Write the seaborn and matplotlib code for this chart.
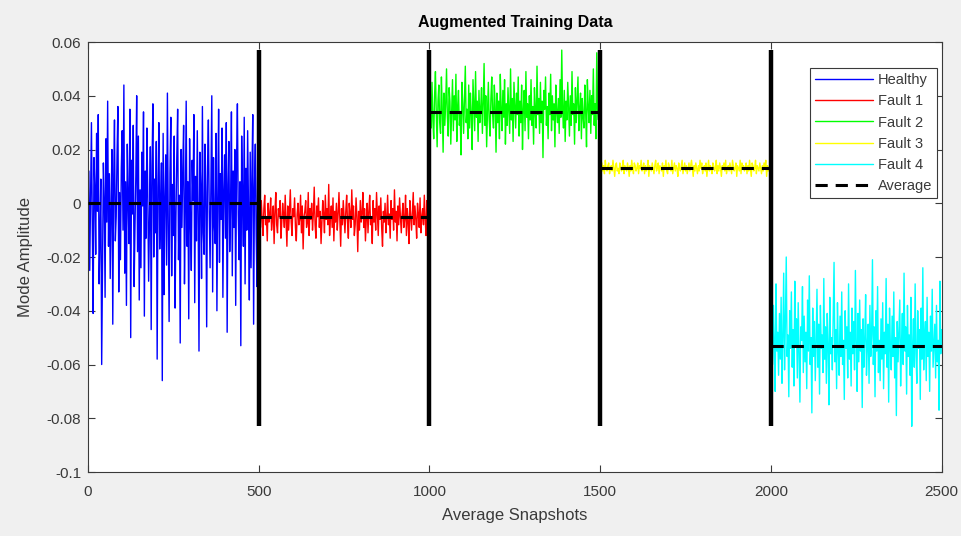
import numpy as np
import pandas as pd
import matplotlib
matplotlib.use("Agg")
import matplotlib.pyplot as plt
from matplotlib.lines import Line2D
import seaborn as sns

# ---- data (values in thousandths of mode amplitude, one sample every 2.5 snapshots) ----
SCALE = 1e-3
STEP = 2.5
SEG_LEN = 500

labels = ["Healthy", "Fault 1", "Fault 2", "Fault 3", "Fault 4"]
colors = ["#0000ff", "#ff0000", "#00ff00", "#ffff00", "#00ffff"]

healthy = [
    12, -25, 3, 30, -8, -41, 17, 6, -19, 26, -3, 33, -30, -12, 9, -60, -22, 15, 2, -35,
    24, -7, 38, -16, 11, -28, -2, 20, -45, 7, 31, -14, -5, 18, 36, -33, 4, -21, 13, 27,
    -10, 44, -26, 8, -38, 22, 1, -15, 35, -50, 16, -4, 29, -31, -9, 10, 40, -18, 25, -36,
    5, -24, 19, -1, 34, -42, 12, -13, 28, 3, -29, -6, 21, -47, 14, 37, -20, 9, -11, 23,
    -58, 6, 30, -17, -3, 15, -66, 26, -34, 2, 18, -23, 41, -8, -44, 11, 32, -27, 7, -12,
    25, -39, -5, 17, 35, -21, 3, -52, 20, -9, 13, 29, -30, -2, 38, -16, 8, -43, 24, -7,
    -25, 16, 1, 33, -37, 10, -14, 27, -4, -55, 19, 6, -28, 36, -11, -19, 22, 4, -46, 14,
    31, -3, -24, 9, 40, -33, 17, -8, -15, 26, -40, 2, 35, -22, 11, -6, 28, -35, 5, 18,
    -13, 30, -48, 7, 23, -18, -1, 34, -27, 12, -9, 20, -38, 15, 37, -4, -21, 8, -53, 25,
    3, -16, 32, -30, 13, -10, 27, -2, -36, 19, -24, 10, 33, -45, 6, 22, -12, -31, 29, 1,
]
fault1 = [
    -3, -9, 1, -6, -12, -2, 3, -8, -5, -14, 0, -7, -4, 2, -10, -6, -1, -15, -3, 4,
    -8, -11, -2, -5, 1, -13, -7, 0, -4, -9, 3, -6, -16, -1, -10, -3, 5, -7, -12, -2,
    -5, 2, -9, -14, -4, 0, -8, -6, 3, -11, -1, -17, -5, -3, 1, -9, -7, 4, -12, -2,
    -6, 0, -10, -4, 6, -8, -13, -1, -5, 2, -9, -3, -15, -7, 1, -4, -11, 3, -6, -2,
    -8, 7, -12, -5, -1, -9, 2, -14, -3, -7, 0, -10, -4, 4, -6, -16, -2, -8, 1, -5,
    -11, -3, 3, -7, -13, 0, -4, -9, 5, -6, -1, -12, -8, 2, -5, -18, -3, -10, 1, -7,
    -4, 4, -9, -2, -14, -6, 0, -11, -3, 3, -8, -5, -15, 1, -7, -2, -10, 4, -4, -12,
    -1, -6, 2, -9, -16, -3, -7, 0, -11, -5, 3, -8, -4, -13, 1, -6, -2, -10, 5, -7,
    -3, -14, -1, -8, 2, -5, -11, -4, 0, -9, -6, 3, -12, -2, -7, -15, 1, -5, -10, -3,
    4, -8, -1, -6, -13, 0, -4, -9, 2, -11, -5, -2, -8, 3, -6, -12, 1, -4, 5, -3,
]
fault2 = [
    36, 28, 45, 31, 24, 40, 49, 33, 21, 38, 44, 30, 26, 47, 35, 19, 41, 29, 37, 50,
    32, 25, 43, 38, 22, 34, 46, 27, 40, 31, 48, 23, 36, 42, 29, 33, 18, 45, 37, 26,
    39, 51, 30, 35, 24, 44, 28, 41, 33, 20, 46, 36, 27, 49, 32, 38, 23, 42, 30, 35,
    43, 26, 37, 52, 29, 40, 21, 34, 45, 31, 25, 39, 47, 33, 28, 44, 36, 19, 41, 30,
    38, 24, 48, 35, 27, 42, 32, 46, 22, 37, 29, 43, 34, 26, 50, 31, 39, 23, 45, 36,
    28, 41, 33, 47, 25, 38, 30, 44, 20, 35, 42, 27, 49, 32, 37, 24, 40, 31, 46, 29,
    36, 22, 43, 34, 28, 51, 33, 39, 26, 45, 30, 38, 17, 42, 35, 47, 29, 36, 24, 41,
    33, 48, 27, 40, 31, 37, 21, 44, 34, 30, 39, 26, 46, 32, 57, 35, 28, 42, 23, 38,
    31, 45, 36, 25, 40, 29, 49, 33, 37, 22, 43, 30, 38, 47, 27, 35, 41, 24, 39, 32,
    28, 44, 34, 21, 46, 36, 30, 42, 26, 40, 33, 50, 29, 37, 24, 56, 35, 31, 45, 38,
]
fault3 = [
    13, 15, 12, 14, 11, 16, 13, 12, 14, 15, 11, 13, 14, 12, 16, 13, 10, 14, 15, 12,
    13, 11, 15, 14, 12, 13, 16, 11, 14, 13, 12, 15, 13, 10, 14, 12, 16, 13, 11, 15,
    14, 12, 13, 15, 11, 14, 13, 16, 12, 13, 15, 11, 14, 12, 13, 16, 10, 14, 13, 12,
    15, 13, 11, 14, 16, 12, 13, 15, 11, 14, 13, 12, 15, 10, 14, 13, 16, 12, 11, 15,
    14, 13, 12, 16, 11, 13, 15, 12, 14, 13, 10, 15, 13, 12, 14, 16, 11, 13, 15, 12,
    14, 11, 13, 15, 12, 14, 16, 13, 10, 14, 12, 15, 13, 11, 14, 12, 16, 13, 15, 11,
    13, 14, 12, 15, 10, 13, 16, 12, 14, 13, 11, 15, 14, 12, 13, 16, 11, 14, 12, 15,
    13, 10, 14, 13, 15, 12, 16, 11, 13, 14, 12, 15, 13, 11, 16, 14, 12, 13, 15, 10,
    14, 13, 12, 16, 11, 15, 13, 14, 12, 13, 15, 11, 14, 12, 16, 13, 10, 15, 14, 12,
    13, 16, 11, 14, 13, 12, 15, 13, 11, 14, 12, 15, 13, 16, 10, 14, 12, 13, 15, 13,
]
fault4 = [
    -45, -60, -38, -52, -70, -30, -55, -48, -64, -41, -58, -35, -67, -50, -26, -62, -44, -20, -57, -49,
    -72, -40, -54, -33, -61, -47, -68, -29, -53, -43, -65, -37, -56, -74, -46, -51, -31, -63, -42, -59,
    -48, -69, -36, -55, -27, -60, -50, -78, -39, -57, -44, -66, -52, -32, -61, -45, -71, -38, -54, -49,
    -63, -28, -58, -46, -67, -41, -53, -75, -35, -56, -50, -62, -43, -22, -59, -47, -69, -37, -55, -64,
    -42, -57, -33, -60, -51, -73, -40, -54, -46, -65, -30, -58, -48, -68, -39, -56, -44, -62, -25, -52,
    -70, -41, -59, -36, -55, -47, -76, -43, -61, -50, -34, -64, -53, -45, -67, -38, -57, -49, -21, -60,
    -46, -72, -40, -55, -31, -63, -51, -66, -43, -58, -37, -69, -48, -56, -28, -61, -45, -74, -39, -53,
    -62, -42, -57, -33, -65, -50, -79, -44, -59, -47, -36, -68, -52, -41, -60, -26, -55, -46, -71, -38,
    -57, -49, -64, -35, -83, -53, -43, -61, -30, -56, -67, -40, -54, -47, -73, -39, -58, -24, -62, -50,
    -44, -66, -35, -57, -48, -70, -42, -55, -32, -61, -53, -45, -65, -38, -59, -51, -77, -29, -56, -47,
]
averages = [0.0, -5.0, 34.0, 13.0, -53.0]
boundaries = [500, 1000, 1500, 2000]

x_ticks = [0, 500, 1000, 1500, 2000, 2500]
y_ticks = [-0.1, -0.08, -0.06, -0.04, -0.02, 0, 0.02, 0.04, 0.06]
y_ticklabels = ["-0.1", "-0.08", "-0.06", "-0.04", "-0.02", "0", "0.02", "0.04", "0.06"]

# ---- build long table ----
series = [healthy, fault1, fault2, fault3, fault4]
rows = []
for k, (lab, vals) in enumerate(zip(labels, series)):
    for i, v in enumerate(vals):
        rows.append((k * SEG_LEN + (i + 1) * STEP, v * SCALE, lab))
df = pd.DataFrame(rows, columns=["snap", "amp", "series"])

# ---- style ----
sns.set_style("white")
plt.rcParams["font.family"] = ["Liberation Sans", "DejaVu Sans"]
BG = "#f0f0f0"
DARK = "#3a3a3a"
DASH = (0, (4, 2.6))

fig = plt.figure(figsize=(9.62, 5.36), dpi=100, facecolor=BG)
ax = fig.add_axes([0.0915, 0.1194, 0.8873, 0.8022])
ax.set_facecolor("white")

sns.lineplot(data=df, x="snap", y="amp", hue="series", hue_order=labels,
             palette=dict(zip(labels, colors)), estimator=None, sort=False,
             lw=1.0, legend=False, ax=ax)

# segment averages
for k in range(len(labels)):
    avg_df = pd.DataFrame({"snap": [k * SEG_LEN, (k + 1) * SEG_LEN],
                           "amp": [averages[k] * SCALE] * 2})
    ax.plot(avg_df["snap"], avg_df["amp"], color="black", lw=2.2,
            linestyle=DASH, zorder=4)

# segment boundaries
ymin, ymax = df["amp"].min(), df["amp"].max()
ax.vlines(boundaries, ymin, ymax, color="black", lw=3.2, zorder=5)

ax.set_xlim(0, 2500)
ax.set_ylim(-0.1, 0.06)
ax.set_xticks(x_ticks)
ax.set_yticks(y_ticks)
ax.set_yticklabels(y_ticklabels)

for s in ax.spines.values():
    s.set_color(DARK)
    s.set_linewidth(0.8)
ax.tick_params(direction="in", length=5, width=0.8, colors=DARK,
               labelsize=11, top=True, right=True, bottom=True, left=True,
               labelcolor=DARK)
ax.tick_params(axis="x", pad=9)
ax.tick_params(axis="y", pad=5)

ax.set_title("Augmented Training Data", fontsize=11.5, fontweight="bold",
             color="black", pad=10.5)
ax.set_xlabel("Average Snapshots", fontsize=12, color=DARK, labelpad=7)
ax.set_ylabel("Mode Amplitude", fontsize=12, color=DARK, labelpad=10)

handles = [Line2D([], [], color=c, lw=1) for c in colors]
handles.append(Line2D([], [], color="black", lw=2.2, linestyle=DASH))
leg = ax.legend(handles, labels + ["Average"], loc="upper right",
                bbox_to_anchor=(0.995, 0.94), fontsize=10.5, frameon=True,
                fancybox=False, framealpha=1, edgecolor=DARK,
                handlelength=4.0, handletextpad=0.3, labelspacing=0.5,
                borderpad=0.35, borderaxespad=0)
leg.get_frame().set_linewidth(0.8)
for t in leg.get_texts():
    t.set_color(DARK)

fig.savefig("out.png", dpi=100, facecolor=BG)
